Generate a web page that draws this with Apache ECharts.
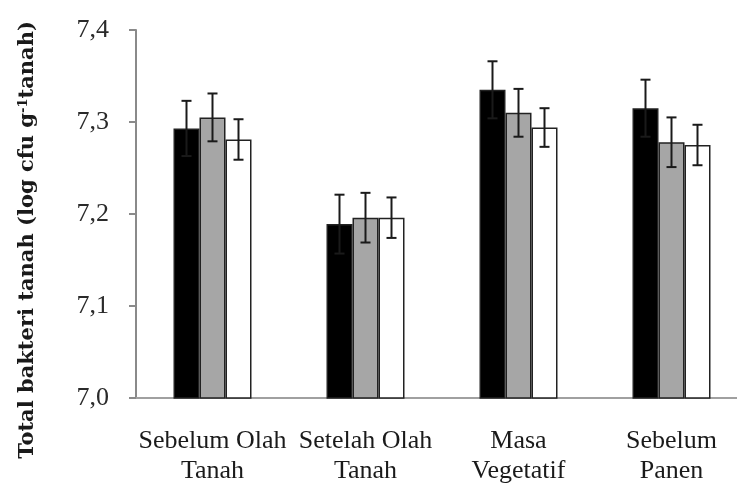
<!DOCTYPE html>
<html>
<head>
<meta charset="utf-8">
<script src="https://cdn.jsdelivr.net/npm/echarts@6/dist/echarts.min.js"></script>
<style>html,body{margin:0;padding:0;background:#fff;}#c{width:737px;height:483px;}</style>
</head>
<body>
<div id="c"></div>
<script>
var categories = ['Sebelum Olah\nTanah', 'Setelah Olah\nTanah', 'Masa\nVegetatif', 'Sebelum\nPanen'];
var yTicks = [7.0, 7.1, 7.2, 7.3, 7.4];
var blackVals = [7.293, 7.189, 7.335, 7.315];
var blackErr  = [0.030, 0.032, 0.031, 0.031];
var grayVals  = [7.305, 7.196, 7.310, 7.278];
var grayErr   = [0.026, 0.027, 0.026, 0.027];
var whiteVals = [7.281, 7.196, 7.294, 7.275];
var whiteErr  = [0.022, 0.022, 0.021, 0.022];

var BAR_W = 26;
var serif = '"Liberation Serif", "DejaVu Serif", serif';
var wideSerif = '"DejaVu Serif", "Liberation Serif", serif';

function errData(vals, errs) {
  return vals.map(function (v, i) { return [i, v - errs[i], v + errs[i]]; });
}
function errSeries(vals, errs, idx) {
  return {
    type: 'custom',
    data: errData(vals, errs),
    z: 10,
    renderItem: function (params, api) {
      var off = (idx - 1) * BAR_W;
      var lo = api.coord([api.value(0), api.value(1)]);
      var hi = api.coord([api.value(0), api.value(2)]);
      var x = lo[0] + off;
      var hw = 5;
      var st = { stroke: '#1a1a1a', lineWidth: 2 };
      return {
        type: 'group',
        children: [
          { type: 'line', shape: { x1: x, y1: lo[1], x2: x, y2: hi[1] }, style: st },
          { type: 'line', shape: { x1: x - hw, y1: lo[1], x2: x + hw, y2: lo[1] }, style: st },
          { type: 'line', shape: { x1: x - hw, y1: hi[1], x2: x + hw, y2: hi[1] }, style: st }
        ]
      };
    }
  };
}
function barSeries(vals, color) {
  return {
    type: 'bar',
    data: vals,
    barWidth: BAR_W,
    barGap: '0%',
    itemStyle: { color: color, borderColor: '#222', borderWidth: 1.5 }
  };
}

var chart = echarts.init(document.getElementById('c'));
chart.setOption({
  animation: false,
  backgroundColor: '#fff',
  grid: { left: 136, top: 30, bottom: 85, width: 612, containLabel: false, outerBoundsMode: 'none' },
  xAxis: {
    type: 'category',
    data: categories,
    axisLine: { lineStyle: { color: '#a0a0a0', width: 2 } },
    axisTick: { show: false },
    axisLabel: {
      interval: 0, margin: 28,
      fontFamily: serif, fontSize: 26, lineHeight: 30, color: '#1a1a1a'
    }
  },
  yAxis: {
    type: 'value',
    min: yTicks[0], max: yTicks[yTicks.length - 1], interval: 0.1,
    splitLine: { show: false },
    axisLine: { show: true, lineStyle: { color: '#8a8a8a', width: 2 } },
    axisTick: { show: true, length: 7, lineStyle: { color: '#8a8a8a', width: 2 } },
    axisLabel: {
      margin: 27, fontFamily: serif, fontSize: 26, color: '#2a2a2a',
      formatter: function (v) { return v.toFixed(1).replace('.', ','); }
    },
    name: '{m|Total bakteri tanah (log cfu g}{s|-1}{m|tanah)}',
    nameLocation: 'middle',
    nameGap: 98,
    nameRotate: 90,
    nameTextStyle: {
      padding: [0, 52, 0, 0],
      rich: {
        m: { fontFamily: wideSerif, fontWeight: 'bold', fontSize: 21, color: '#1a1a1a' },
        s: { fontFamily: wideSerif, fontWeight: 'bold', fontSize: 13, color: '#1a1a1a', verticalAlign: 'top' }
      }
    }
  },
  series: [
    barSeries(blackVals, '#000000'),
    barSeries(grayVals, '#a6a6a6'),
    barSeries(whiteVals, '#ffffff'),
    errSeries(blackVals, blackErr, 0),
    errSeries(grayVals, grayErr, 1),
    errSeries(whiteVals, whiteErr, 2)
  ]
});
</script>
</body>
</html>
